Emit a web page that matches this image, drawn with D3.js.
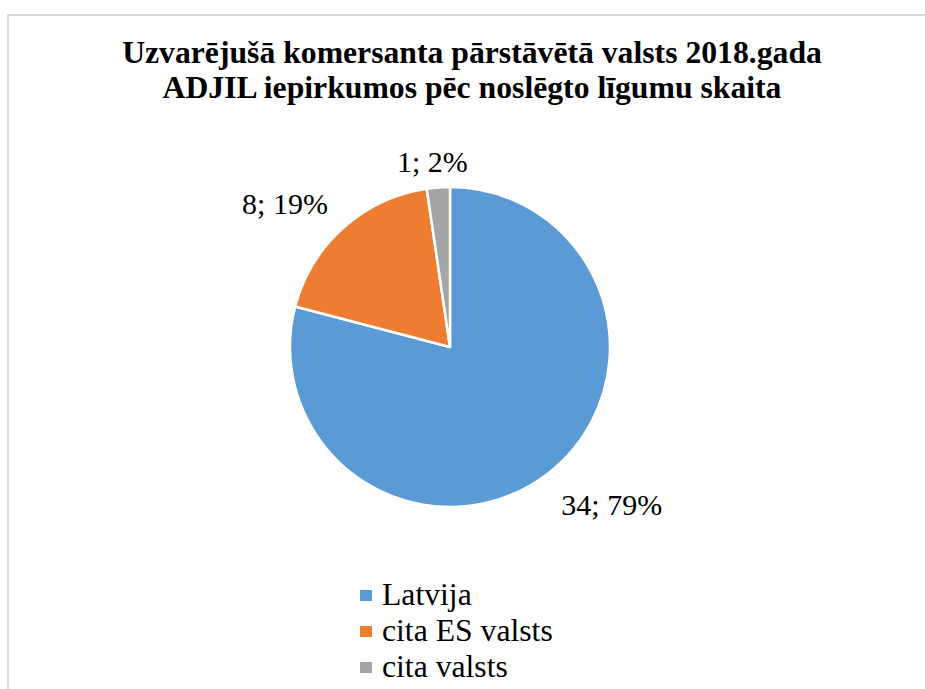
<!DOCTYPE html>
<html>
<head>
<meta charset="utf-8">
<script src="https://cdn.jsdelivr.net/npm/d3@7"></script>
<style>
  body { margin: 0; background: #fff; }
</style>
</head>
<body>
<svg id="chart"></svg>
<script>
// data
var categories = ['Latvija', 'cita ES valsts', 'cita valsts'];
var counts = [34, 8, 1];
var colors = ['#5B9BD5', '#ED7D31', '#A5A5A5'];
var titleLines = ['Uzvarējušā komersanta pārstāvētā valsts 2018.gada', 'ADJIL iepirkumos pēc noslēgto līgumu skaita'];

var serif = 'Liberation Serif';
var width = 925, height = 689;
var cx = 450, cy = 347, radius = 160;

var svg = d3.select('#chart')
    .attr('width', width)
    .attr('height', height);

// chart frame
svg.append('path')
    .attr('d', 'M8,' + height + 'V15H' + width)
    .attr('fill', 'none')
    .attr('stroke', '#d9d9d9')
    .attr('stroke-width', 2);

// title
svg.append('g').selectAll('text')
    .data(titleLines)
    .enter().append('text')
    .attr('x', 472)
    .attr('y', function (d, i) { return 63 + i * 35; })
    .attr('text-anchor', 'middle')
    .attr('font-family', serif)
    .attr('font-size', 31.7)
    .attr('font-weight', 'bold')
    .text(function (d) { return d; });

var total = d3.sum(counts);
var pie = d3.pie().sort(null).value(function (d) { return d; });
var arcs = pie(counts);
var arc = d3.arc().innerRadius(0).outerRadius(radius);

var g = svg.append('g')
    .attr('transform', 'translate(' + cx + ',' + cy + ')');

g.selectAll('.slice')
    .data(arcs)
    .enter().append('path')
    .attr('class', 'slice')
    .attr('d', arc)
    .attr('fill', function (d, i) { return colors[i]; })
    .attr('stroke', '#fff')
    .attr('stroke-width', 2.5)
    .attr('stroke-linejoin', 'round');

// data labels, "outside end" style
var labels = g.selectAll('.lbl')
    .data(arcs)
    .enter().append('text')
    .attr('class', 'lbl')
    .attr('font-family', serif)
    .attr('font-size', 30)
    .attr('text-anchor', 'middle')
    .text(function (d) { return d.data + '; ' + Math.round(d.data / total * 100) + '%'; });

function clamp1(v) { return Math.max(-1, Math.min(1, v)); }

labels.each(function (d) {
    var bb = this.getBBox();
    var a = (d.startAngle + d.endAngle) / 2;
    var sx = Math.sin(a), sy = -Math.cos(a);
    var ax = sx * (radius + 8), ay = sy * (radius + 8);
    var lx = ax + (bb.width / 2 + 10) * clamp1(sx * 1.6);
    var ly = ay + (bb.height / 2 + 5) * clamp1(sy * 1.6);
    d3.select(this)
        .attr('x', lx)
        .attr('y', ly + 14);
});

// legend
var legend = svg.append('g')
    .attr('transform', 'translate(360,0)');

var items = legend.selectAll('.item')
    .data(categories)
    .enter().append('g')
    .attr('class', 'item')
    .attr('transform', function (d, i) { return 'translate(0,' + (605 + i * 36) + ')'; });

items.append('rect')
    .attr('x', 0)
    .attr('y', -15)
    .attr('width', 12)
    .attr('height', 11)
    .attr('fill', function (d, i) { return colors[i]; });

items.append('text')
    .attr('x', 22)
    .attr('y', 0)
    .attr('font-family', serif)
    .attr('font-size', 31.7)
    .text(function (d) { return d; });
</script>
</body>
</html>
